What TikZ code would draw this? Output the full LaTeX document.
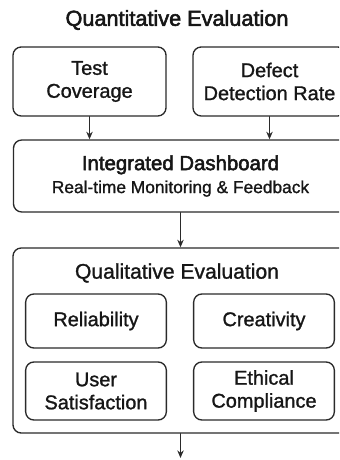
\documentclass[tikz,border=0pt]{standalone}
\usepackage{fontspec}
\setmainfont{Liberation Sans}
\newfontfamily\mediumfont{Liberation Sans}[FakeBold=2.5]
\newfontfamily\boxfontfam{Liberation Sans}[FakeBold=1.2]
\usepackage{xcolor}
\usetikzlibrary{arrows.meta}
\definecolor{inkgray}{HTML}{2a2a2a}
\definecolor{textblack}{HTML}{161616}

\begin{document}
\begin{tikzpicture}[>={Stealth[length=6.5pt,width=5.5pt]}, line cap=round, x=0.03cm, y=-0.03cm,
  card/.style={draw=inkgray, line width=1.15pt, rounded corners=7pt, align=center,
    text=textblack, inner sep=0pt, font=\boxfontfam\fontsize{17}{19.6}\selectfont},
  link/.style={->, draw=inkgray, line width=1.1pt}]

% --- frame (reference is cut on the right) ---
\useasboundingbox (0,0) rectangle (339,460);
\clip (0,0) rectangle (339,460);

% --- layout helpers ---
\def\L{89.5}    % left column x
\def\R{269.5}   % right column x
\def\C{180.5}   % center x

% --- title ---
\node[text=textblack, font=\mediumfont\fontsize{18.5}{22}\selectfont] (title) at (177,20) {Quantitative Evaluation};

% --- quantitative metrics ---
\node[card, minimum width=4.59cm, minimum height=2.07cm] (cov) at (\L,81.5) {Test\\Coverage};
\node[card, minimum width=4.59cm, minimum height=2.07cm] (ddr) at (\R,81.5) {Defect\\Detection Rate};

% --- dashboard ---
\node[card, minimum width=10.02cm, minimum height=2.16cm] (dash) at (\C,176)
  {\fontsize{17.4}{25}\selectfont{\mediumfont Integrated Dashboard}\\
   \fontsize{14.8}{25}\selectfont Real-time Monitoring \& Feedback};

% --- qualitative block ---
\node[card, minimum width=10.05cm, minimum height=5.55cm] (qual) at (\C,340.5) {};
\node[text=textblack, font=\boxfontfam\fontsize{18}{22}\selectfont] (qualtitle) at (177,273) {Qualitative Evaluation};

% --- a small macro for each inner box: name, x, y, height, text
\newcommand{\evalbox}[5]{%
  \node[card, minimum width=4.22cm, minimum height=#4] (#1) at (#2,#3) {#5};
}

\evalbox{rel}{96}{321}{1.62cm}{Reliability}
\evalbox{cre}{264}{321}{1.62cm}{Creativity}
\evalbox{usr}{96}{391}{1.74cm}{User\\Satisfaction}
\evalbox{eth}{264}{391}{1.74cm}{Ethical\\Compliance}

% --- connectors ---
\coordinate (out) at (\C,458);
\draw[link] (cov.south) -- (cov.south |- dash.north);
\draw[link] (ddr.south) -- (ddr.south |- dash.north);
\draw[link] (dash.south) -- (qual.north);
\draw[link] (qual.south) -- (out);

\end{tikzpicture}
\end{document}
